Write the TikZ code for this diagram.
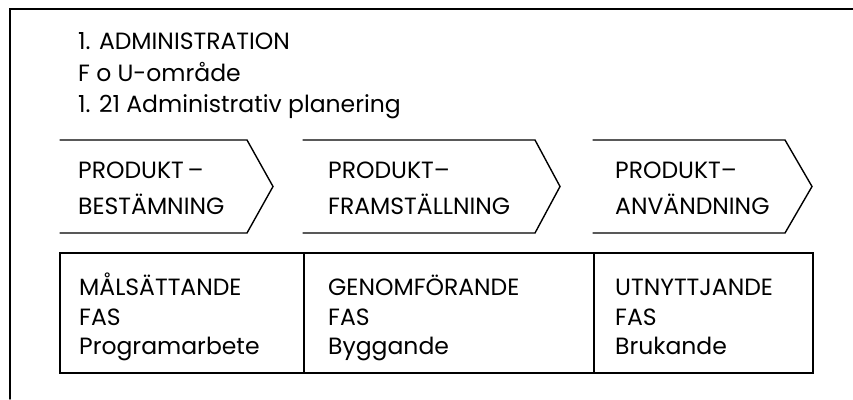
\documentclass[tikz,border=0pt]{standalone}
\usepackage{fontspec}
\setmainfont{Poppins}
\begin{document}
\begin{tikzpicture}[x=1pt,y=-1pt,
  line/.style={line width=1.4pt, line cap=round, line join=miter},
  txt/.style={anchor=base west, inner sep=0pt, font=\fontsize{23.5}{23.5}\selectfont},
  ]
\useasboundingbox (0,0) rectangle (853,399);
% frame
\coordinate (fbl) at (10,399);
\coordinate (ftl) at (10,9);
\coordinate (ftr) at (853,9);
\draw[line] (fbl) -- (ftl) -- (ftr);
% heading
\node[txt] (h1) at (78,49) {1. ADMINISTRATION};
\node[txt] (h2) at (78,81) {F o U-område};
\node[txt] (h3) at (78,112) {1. 21 Administrativ planering};
% chevrons
\foreach \n/\a/\b/\c in {c1/60/247/273, c2/303/535/560, c3/593/785/812}{
  \coordinate (\n tl) at (\a,140);
  \coordinate (\n tr) at (\b,140);
  \coordinate (\n tip) at (\c,186.5);
  \coordinate (\n br) at (\b,233);
  \coordinate (\n bl) at (\a,233);
  \draw[line] (\n tl) -- (\n tr) -- (\n tip) -- (\n br) -- (\n bl);
}
\node[txt] (p1a) at (78,178) {PRODUKT\,–};
\node[txt] (p1b) at (78,214) {BESTÄMNING};
\node[txt] (p2a) at (328,178) {PRODUKT–};
\node[txt] (p2b) at (328,214) {FRAMSTÄLLNING};
\node[txt] (p3a) at (615,178) {PRODUKT–};
\node[txt] (p3b) at (615,214) {ANVÄNDNING};
% table
\coordinate (ttl) at (60,253);
\coordinate (tbr) at (813,373);
\coordinate (d1t) at (304,253);
\coordinate (d1b) at (304,373);
\coordinate (d2t) at (594,253);
\coordinate (d2b) at (594,373);
\draw[line] (ttl) rectangle (tbr);
\draw[line] (d1t) -- (d1b);
\draw[line] (d2t) -- (d2b);
\node[txt] (m1) at (79,295) {MÅLSÄTTANDE};
\node[txt] (m2) at (79,325) {FAS};
\node[txt] (m3) at (79,354) {Programarbete};
\node[txt] (g1) at (328,295) {GENOMFÖRANDE};
\node[txt] (g2) at (328,325) {FAS};
\node[txt] (g3) at (328,354) {Byggande};
\node[txt] (u1) at (615,295) {UTNYTTJANDE};
\node[txt] (u2) at (615,325) {FAS};
\node[txt] (u3) at (615,354) {Brukande};
\end{tikzpicture}
\end{document}
